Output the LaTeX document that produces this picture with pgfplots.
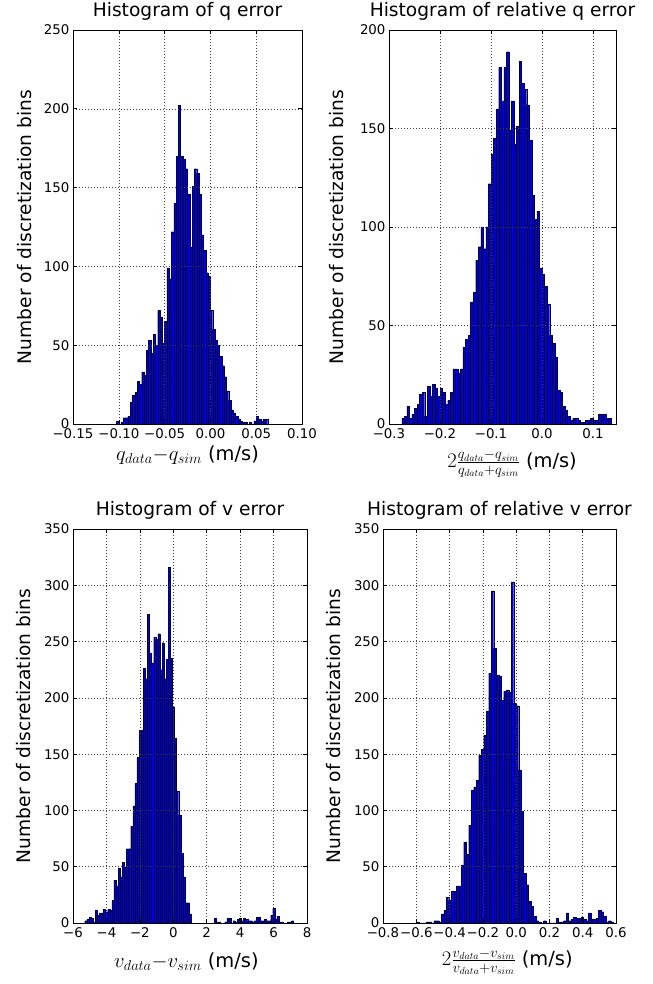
\documentclass[border=0pt]{standalone}
\usepackage{fontspec}
\setmainfont{DejaVu Sans}
\usepackage{pgfplots}
\pgfplotsset{compat=1.18}
\definecolor{barblue}{RGB}{0,0,215}
\definecolor{baredge}{RGB}{0,0,60}
\pgfplotsset{
  hist/.style={
    scale only axis,
    axis on top,
    ymin=0,
    height=394bp,
    grid=major,
    grid style={black!75, line width=0.5bp, dash pattern=on 0.8bp off 2.2bp},
    axis line style={black, line width=0.8bp},
    tick align=inside,
    major tick length=4bp,
    tick style={black, line width=0.6bp},
    ticklabel style={font=\fontsize{13.4}{15}\selectfont},
    xticklabel style={yshift=-1.5bp},
    /pgf/number format/assume math mode=true,
    title style={font=\fontsize{18.7}{22}\selectfont, anchor=base},
    ylabel style={font=\fontsize{18.7}{22}\selectfont, anchor=center},
    xlabel style={font=\fontsize{19.5}{23}\selectfont, anchor=center},
  },
  bars/.style={ybar interval, fill=barblue, draw=baredge, line width=0.28bp},
}
\begin{document}
\begin{tikzpicture}
\useasboundingbox (0,0) rectangle (653bp,984bp);
% ---------------- panel 1
\begin{axis}[hist, at={(73bp,560bp)}, anchor=south west, width=229bp,
  xmin=-0.15, xmax=0.10, ymax=250,
  xtick={-0.15,-0.10,-0.05,0,0.05,0.10},
  xticklabels={−0.15,−0.10,−0.05,0.00,0.05,0.10},
  ytick={0,50,100,150,200,250},
  title={Histogram of q error},
  title style={at={(axis description cs:0.5,1.0203)}},
  xlabel={$q_{data}{-}q_{sim}$ (m/s)},
  xlabel style={at={(axis description cs:0.5,-0.0787)}},
  ylabel={Number of discretization bins},
  ylabel style={at={(axis description cs:-0.2118,0.5)}},
]
\addplot[bars] coordinates {
(-0.1025,2) (-0.1,0) (-0.0975,1) (-0.095,4) (-0.0925,4) (-0.09,5) (-0.0875,14) (-0.085,18) (-0.0825,20) (-0.08,27) (-0.0775,25) (-0.075,33) (-0.0725,31) (-0.07,47) (-0.0675,53) (-0.065,45) (-0.0625,57) (-0.06,50) (-0.0575,72) (-0.055,68) (-0.0525,51) (-0.05,65) (-0.0475,99) (-0.045,92) (-0.0425,122) (-0.04,140) (-0.0375,170) (-0.035,202) (-0.0325,170) (-0.03,168) (-0.0275,162) (-0.025,146) (-0.0225,112) (-0.02,151) (-0.0175,162) (-0.015,159) (-0.0125,146) (-0.01,120) (-0.0075,110) (-0.005,96) (-0.0025,94) (0,72) (0.0025,60) (0.005,53) (0.0075,50) (0.01,43) (0.0125,37) (0.015,30) (0.0175,21) (0.02,15) (0.0225,9) (0.025,7) (0.0275,5) (0.03,3) (0.0325,2) (0.035,1) (0.0375,1) (0.04,0) (0.0425,1) (0.045,0) (0.0475,2) (0.05,5) (0.0525,3) (0.055,2) (0.0575,3) (0.06,3) (0.0625,0)
};
\end{axis}
% ---------------- panel 2
\begin{axis}[hist, at={(389bp,560bp)}, anchor=south west, width=227bp,
  xmin=-0.3, xmax=0.145, ymax=200,
  xtick={-0.3,-0.2,-0.1,0,0.1},
  xticklabels={−0.3,−0.2,−0.1,0.0,0.1},
  ytick={0,50,100,150,200},
  title={Histogram of relative q error},
  title style={at={(axis description cs:0.5,1.0203)}},
  xlabel={$2\frac{q_{data}-q_{sim}}{q_{data}+q_{sim}}$ (m/s)},
  xlabel style={at={(axis description cs:0.542,-0.1015)}},
  ylabel={Number of discretization bins},
  ylabel style={at={(axis description cs:-0.2313,0.5)}},
]
\addplot[bars] coordinates {
(-0.275,3) (-0.27,4) (-0.265,9) (-0.26,3) (-0.255,5) (-0.25,8) (-0.245,10) (-0.24,15) (-0.235,16) (-0.23,4) (-0.225,19) (-0.22,14) (-0.215,20) (-0.21,18) (-0.205,14) (-0.2,18) (-0.195,16) (-0.19,10) (-0.185,12) (-0.18,16) (-0.175,28) (-0.17,28) (-0.165,26) (-0.16,28) (-0.155,39) (-0.15,43) (-0.145,45) (-0.14,62) (-0.135,67) (-0.13,83) (-0.125,90) (-0.12,100) (-0.115,89) (-0.11,100) (-0.105,122) (-0.1,137) (-0.095,145) (-0.09,160) (-0.085,181) (-0.08,164) (-0.075,181) (-0.07,189) (-0.065,149) (-0.06,164) (-0.055,142) (-0.05,151) (-0.045,184) (-0.04,173) (-0.035,170) (-0.03,162) (-0.025,144) (-0.02,116) (-0.015,104) (-0.01,108) (-0.005,79) (0,76) (0.005,70) (0.01,61) (0.015,45) (0.02,41) (0.025,34) (0.03,17) (0.035,16) (0.04,9) (0.045,7) (0.05,4) (0.055,2) (0.06,3) (0.065,3) (0.07,2) (0.075,1) (0.08,1) (0.085,2) (0.09,2) (0.095,3) (0.1,2) (0.105,2) (0.11,5) (0.115,5) (0.12,5) (0.125,3) (0.13,3) (0.135,0)
};
\end{axis}
% ---------------- panel 3
\begin{axis}[hist, at={(73bp,61bp)}, anchor=south west, width=234bp,
  xmin=-6, xmax=8, ymax=350,
  xtick={-6,-4,-2,0,2,4,6,8},
  xticklabels={−6,−4,−2,0,2,4,6,8},
  ytick={0,50,100,150,200,250,300,350},
  title={Histogram of v error},
  title style={at={(axis description cs:0.5,1.0203)}},
  xlabel={$v_{data}{-}v_{sim}$ (m/s)},
  xlabel style={at={(axis description cs:0.4846,-0.0975)}},
  ylabel={Number of discretization bins},
  ylabel style={at={(axis description cs:-0.2094,0.5)}},
]
\addplot[bars] coordinates {
(-5.3,2) (-5.175,3) (-5.05,5) (-4.925,4) (-4.8,1) (-4.675,11) (-4.55,7) (-4.425,9) (-4.3,9) (-4.175,12) (-4.05,10) (-3.925,12) (-3.8,11) (-3.675,20) (-3.55,38) (-3.425,33) (-3.3,49) (-3.175,41) (-3.05,54) (-2.925,50) (-2.8,66) (-2.675,66) (-2.55,86) (-2.425,104) (-2.3,124) (-2.175,147) (-2.05,171) (-1.925,171) (-1.8,226) (-1.675,217) (-1.55,274) (-1.425,240) (-1.3,231) (-1.175,254) (-1.05,252) (-0.925,257) (-0.8,225) (-0.675,249) (-0.55,217) (-0.425,234) (-0.3,316) (-0.175,235) (-0.05,192) (0.075,164) (0.2,117) (0.325,96) (0.45,62) (0.575,41) (0.7,18) (0.825,18) (0.95,8) (1.075,0) (1.2,0) (1.325,0) (1.45,0) (1.575,0) (1.7,0) (1.825,0) (1.95,0) (2.075,0) (2.2,0) (2.325,0) (2.45,4) (2.575,1) (2.7,1) (2.825,0) (2.95,0) (3.075,1) (3.2,4) (3.325,4) (3.45,0) (3.575,2) (3.7,1) (3.825,3) (3.95,4) (4.075,2) (4.2,4) (4.325,3) (4.45,2) (4.575,2) (4.7,1) (4.825,2) (4.95,5) (5.075,5) (5.2,2) (5.325,2) (5.45,3) (5.575,2) (5.7,2) (5.825,7) (5.95,13) (6.075,3) (6.2,6) (6.325,1) (6.45,1) (6.575,0) (6.7,0) (6.825,1) (6.95,1) (7.075,2) (7.2,0)
};
\end{axis}
% ---------------- panel 4
\begin{axis}[hist, at={(383bp,61bp)}, anchor=south west, width=233bp,
  xmin=-0.8, xmax=0.6, ymax=350,
  xtick={-0.8,-0.6,-0.4,-0.2,0,0.2,0.4,0.6},
  xticklabels={−0.8,−0.6,−0.4,−0.2,0.0,0.2,0.4,0.6},
  ytick={0,50,100,150,200,250,300,350},
  title={Histogram of relative v error},
  title style={at={(axis description cs:0.5,1.0203)}},
  xlabel={$2\frac{v_{data}-v_{sim}}{v_{data}+v_{sim}}$ (m/s)},
  xlabel style={at={(axis description cs:0.5335,-0.099)}},
  ylabel={Number of discretization bins},
  ylabel style={at={(axis description cs:-0.2103,0.5)}},
]
\addplot[bars] coordinates {
(-0.6,1) (-0.585,0) (-0.57,0) (-0.555,0) (-0.54,1) (-0.525,1) (-0.51,0) (-0.495,2) (-0.48,2) (-0.465,1) (-0.45,8) (-0.435,11) (-0.42,23) (-0.405,20) (-0.39,28) (-0.375,28) (-0.36,33) (-0.345,33) (-0.33,51) (-0.315,72) (-0.3,61) (-0.285,87) (-0.27,118) (-0.255,121) (-0.24,127) (-0.225,149) (-0.21,154) (-0.195,167) (-0.18,188) (-0.165,222) (-0.15,295) (-0.135,244) (-0.12,220) (-0.105,219) (-0.09,198) (-0.075,206) (-0.06,207) (-0.045,205) (-0.03,303) (-0.015,195) (0,193) (0.015,136) (0.03,99) (0.045,44) (0.06,34) (0.075,19) (0.09,15) (0.105,6) (0.12,2) (0.135,1) (0.15,0) (0.165,2) (0.18,0) (0.195,0) (0.21,0) (0.225,0) (0.24,4) (0.255,1) (0.27,1) (0.285,2) (0.3,9) (0.315,2) (0.33,3) (0.345,5) (0.36,4) (0.375,4) (0.39,5) (0.405,3) (0.42,2) (0.435,9) (0.45,3) (0.465,3) (0.48,4) (0.495,11) (0.51,10) (0.525,6) (0.54,1) (0.555,2) (0.57,1) (0.585,0)
};
\end{axis}
\end{tikzpicture}
\end{document}
